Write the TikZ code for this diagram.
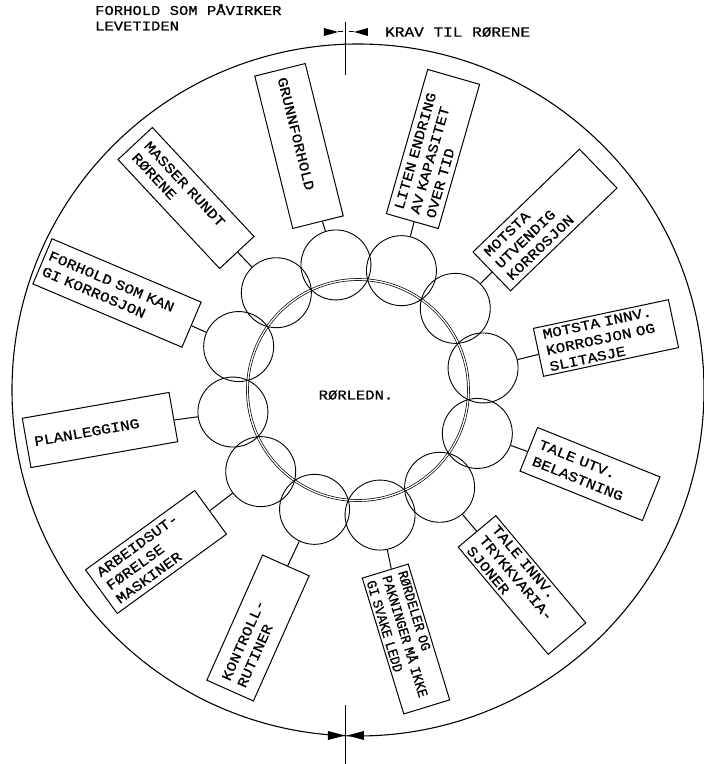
\documentclass[tikz,border=0pt]{standalone}
\usepackage{fontspec}
\setmonofont{Liberation Mono}
\newfontfamily\tw[FakeStretch=1.15,FakeBold=0.8]{Liberation Mono}
\newfontfamily\twc[FakeStretch=0.93,FakeBold=0.8]{Liberation Mono}
\begin{document}
\begin{tikzpicture}[x=1pt,y=1pt,
  ring/.style={circle,draw,line width=0.9pt,minimum size=70pt,inner sep=0pt},
  lbl/.style={draw,line width=1pt,inner xsep=8pt,inner ysep=1pt,align=left,anchor=center},
  f16/.style={font=\tw\fontsize{14}{#1}\selectfont},
  conn/.style={line width=1pt},
  secmark/.style={line width=1pt}]
\useasboundingbox (-358,-374) rectangle (346,390);

% outer circle
\node[circle,draw,line width=1.1pt,minimum size=692pt,inner sep=0pt] (outer) at (0,0) {};
% pipe
\node[circle,draw,double,double distance=1.3pt,line width=0.7pt,minimum size=221pt,inner sep=0pt] (pipe) at (0,0) {};
\node[font=\tw\fontsize{13.5}{15}\selectfont] (pipelbl) at (-2,-5) {RØRLEDN.};

% ring of circles
\foreach \i/\a in {A/100,B/70,C/40,D/10,E/-20,F/-50,G/-80,H/-110,I/-140,J/-170,K/160,L/130}
  \node[ring] (c\i) at (\a:127) {};

% boxes
\node[lbl,f16=16.5,rotate=-76,minimum height=52pt,text width=141pt] (bA) at (-59,244) {GRUNNFORHOLD};
\node[lbl,f16=16.5,rotate=74,minimum height=54pt,text width=134pt] (bB) at (75,241) {LITEN ENDRING\\AV KAPASITET\\OVER TID};
\node[lbl,f16=16.5,rotate=44,minimum height=54pt,text width=132pt] (bC) at (187,170) {MOTSTA\\UTVENDIG\\KORROSJON};
\node[lbl,f16=16.5,rotate=12,minimum height=49pt,text width=122pt] (bD) at (248,52) {MOTSTA INNV.\\KORROSJON OG\\SLITASJE};
\node[lbl,f16=18,rotate=-22,minimum height=47pt,text width=116pt] (bE) at (232,-84) {TALE UTV.\\BELASTNING};
\node[lbl,f16=16.5,rotate=-50,minimum height=49pt,text width=124pt] (bF) at (164,-195) {TALE INNV.\\TRYKKVARIA-\\SJONER};
\node[lbl,font=\twc\fontsize{14}{16.5}\selectfont,inner xsep=5pt,rotate=-73,minimum height=48pt,text width=132pt] (bG) at (48,-249) {RØRDELER OG\\PAKNINGER MÅ IKKE\\GI SVAKE LEDD};
\node[lbl,f16=17,rotate=66,minimum height=51pt,text width=121pt] (bH) at (-100,-238) {KONTROLL-\\RUTINER};
\node[lbl,f16=16.5,rotate=36,minimum height=54pt,text width=119pt] (bI) at (-202,-162) {ARBEIDSUT-\\FØRELSE\\MASKINER};
\node[lbl,f16=16.5,rotate=10,minimum height=50pt,text width=133pt] (bJ) at (-258,-40) {PLANLEGGING};
\node[lbl,f16=17,inner xsep=4pt,rotate=-23,minimum height=49pt,text width=154pt] (bK) at (-241,97) {FORHOLD SOM KAN\\GI KORROSJON};
\node[lbl,f16=17,rotate=-47,minimum height=47pt,text width=133pt] (bL) at (-172,192) {MASSER RUNDT\\RØRENE};

% connectors
\foreach \i in {A,B,C,D,E,F,G,H,I,J,K,L}
  \draw[conn] (c\i) -- (b\i);

% top section mark
\coordinate (tT) at (-12,368);
\coordinate (tB) at (-12,315);
\draw[secmark] (tT) -- (tB);
\fill (-34,362) -- (-20,358) -- (-34,354) -- cycle;
\draw[secmark] (-20,358) -- (-15,358);
\fill (10,362) -- (-4,358) -- (10,354) -- cycle;
\draw[secmark] (-9,358) -- (-4,358);

% bottom section mark
\coordinate (bT) at (-12,-315);
\coordinate (bB) at (-12,-374);
\draw[secmark] (bT) -- (bB);
\fill (-30,-341) -- (-13,-345.5) -- (-30,-350) -- cycle;
\fill (6,-341) -- (-11,-345.5) -- (6,-350) -- cycle;

% headings
\node[anchor=north west,align=left,inner sep=0pt,font=\tw\fontsize{13.5}{15.5}\selectfont] (head) at (-263,386) {FORHOLD SOM PÅVIRKER\\LEVETIDEN};
\node[anchor=west,inner sep=0pt,font=\tw\fontsize{14}{16}\selectfont] (krav) at (27,358) {KRAV TIL RØRENE};
\end{tikzpicture}
\end{document}
